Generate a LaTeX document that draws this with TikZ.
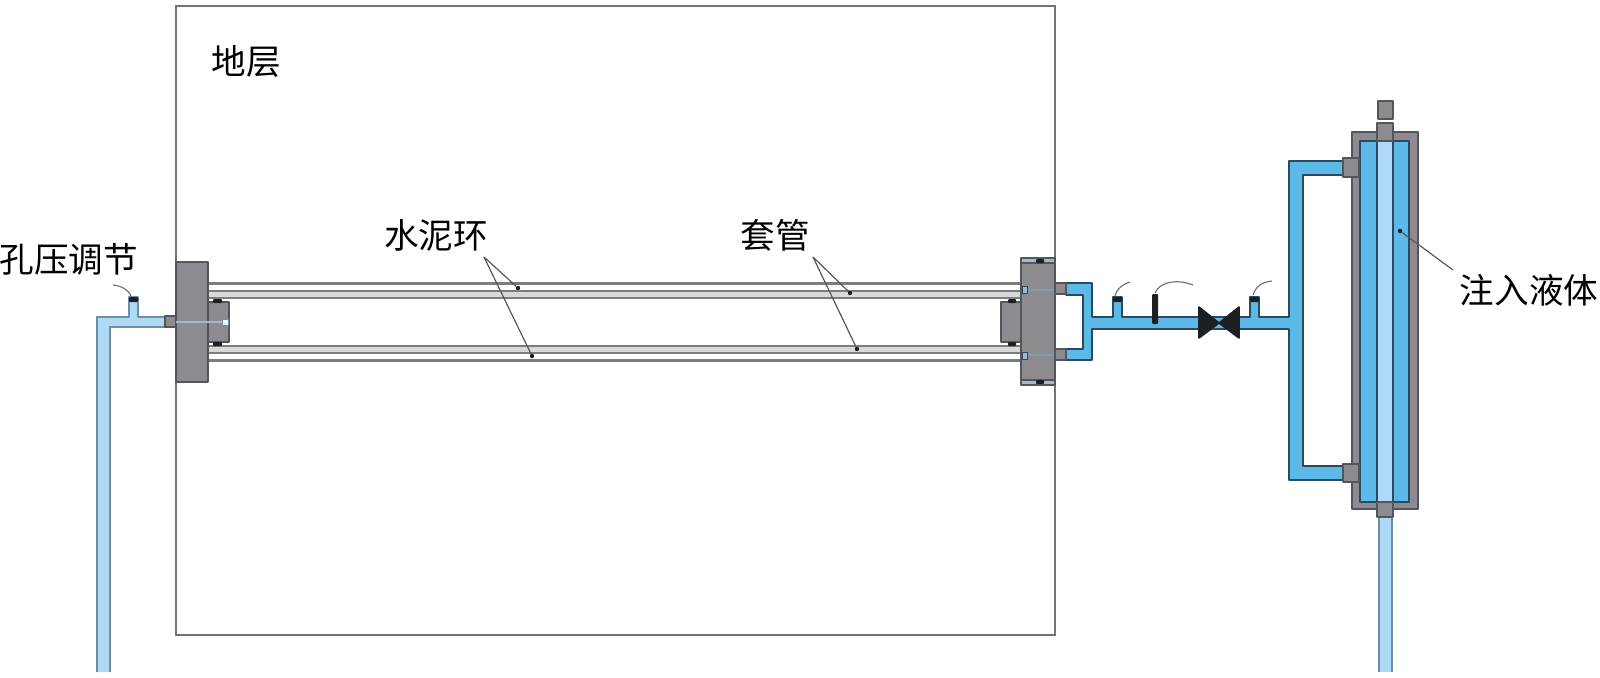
\documentclass[tikz,border=0pt]{standalone}
\usepackage{fontspec}
\setmainfont{Noto Sans CJK SC}
\usetikzlibrary{positioning,calc}
\definecolor{steelgray}{HTML}{8D8B8F}
\definecolor{steeledge}{HTML}{55565C}
\definecolor{waterblue}{HTML}{5CB9E8}
\definecolor{wateredge}{HTML}{2B4A60}
\definecolor{paleblue}{HTML}{AEDAF6}
\definecolor{paleedge}{HTML}{6F8DA3}
\definecolor{capblack}{HTML}{1D1F22}
\definecolor{leadergray}{HTML}{55585A}
\definecolor{casinggray}{HTML}{7C7D7F}
\begin{document}
\begin{tikzpicture}[
    x=0.5pt,y=-0.5pt,
    caption/.style={inner sep=0pt,font=\fontsize{17.3}{20}\selectfont,text=black},
    steel/.style={fill=steelgray,draw=steeledge,line width=0.7pt,line join=round},
    water/.style={fill=waterblue,draw=wateredge,line width=0.85pt,line join=round},
    pale/.style={fill=paleblue,draw=paleedge,line width=0.85pt,line join=round},
    capblock/.style={fill=capblack,draw=none,rounded corners=0.5pt},
    wire/.style={draw=gray!85!black,line width=0.55pt},
    leader/.style={draw=leadergray,line width=0.6pt},
    casing/.style={draw=casinggray,line width=1.2pt},
    tipdot/.style={circle,fill=capblack,inner sep=0pt,minimum size=2.2pt}
]
    \useasboundingbox (0,0) rectangle (1600,677);
    \draw[draw=gray!90!black,line width=0.7pt] (176,6) rectangle (1055,635);

    % casing pipes
    \fill[gray!30] (208,291) rectangle (1022,298) (208,346) rectangle (1022,353);
    \foreach \y in {283.5,291,298,346,353,360.5}
        \draw[casing] (208,\y) -- (1022,\y);

    % left side
    \draw[pale] (97,672) -- (97,317) -- (129,317) -- (129,297) -- (138,297) -- (138,317) -- (165,317)
        -- (165,327) -- (110,327) -- (110,672);
    \draw[steel] (165,316) rectangle (176,327);
    \draw[steel] (176,262) rectangle (208,382);
    \draw[steel] (208,302) rectangle (229,342);
    \fill[paleblue!60!steelgray] (176,321) rectangle (222,323);
    \draw[fill=white!70!paleblue,draw=paleedge,line width=0.5pt] (222,319) rectangle (228,325);
    \foreach \x/\y in {213/299,213/342}
        \fill[capblock] (\x,\y) rectangle ++(9,4);
    \fill[capblock] (129,297) rectangle (138,302);
    \draw[wire] (131,296) .. controls (128,289) and (121,286) .. (113,285);

    % right flange
    \draw[water] (1066,283) -- (1092,283) -- (1092,317) -- (1113,317) -- (1113,297) -- (1122,297) -- (1122,317)
        -- (1250,317) -- (1250,297) -- (1259,297) -- (1259,317) -- (1289,317) -- (1289,161) -- (1343,161)
        -- (1343,175) -- (1303,175) -- (1303,466) -- (1343,466) -- (1343,480) -- (1289,480) -- (1289,329)
        -- (1092,329) -- (1092,360) -- (1066,360) -- (1066,349) -- (1083,349) -- (1083,295) -- (1066,295) -- cycle;
    \draw[steel] (1001,302) rectangle (1022,342);
    \draw[steel,fill=paleblue!60!steelgray] (1021,258) rectangle (1055,385);
    \draw[steel] (1021,263) rectangle (1055,380);
    \fill[waterblue!45!steelgray] (1022,289) rectangle (1055,291) (1022,354) rectangle (1055,356);
    \foreach \y in {286,352}
        \draw[water,fill=paleblue!60!steelgray,line width=0.5pt] (1022,\y) rectangle ++(5,7);
    \foreach \y in {283,349}
        \draw[steel] (1055,\y) rectangle ++(11,11);
    \foreach \x/\y in {1036/259,1036/380,1008/299,1008/342}
        \fill[capblock] (\x,\y) rectangle ++(8,4);

    % sensors and valve
    \foreach \x in {1113,1250}
        \fill[capblock] (\x,297) rectangle ++(9,5);
    \fill[capblock] (1152,294) rectangle (1158,324);
    \draw[wire] (1115,296) .. controls (1118,287) and (1122,285) .. (1130,282);
    \draw[wire] (1155,293) .. controls (1160,281) and (1178,279) .. (1193,285);
    \draw[wire] (1253,295) .. controls (1256,286) and (1262,282) .. (1272,281);
    \draw[capblack,fill=capblack,line width=0.8pt,line join=round] (1199,307) -- (1219,323) -- (1199,338) -- cycle;
    \draw[capblack,fill=capblack,line width=0.8pt,line join=round] (1239,307) -- (1219,323) -- (1239,338) -- cycle;

    % vessel
    \draw[steel] (1352,132) rectangle (1418,509);
    \draw[water] (1360,141) rectangle (1409,502);
    \draw[water,fill=paleblue] (1377,141) rectangle (1393,502);
    \draw[steel] (1378,101) rectangle (1393,119);
    \draw[steel] (1377,123) rectangle (1393,141);
    \draw[pale] (1379,672) -- (1379,517) -- (1392,517) -- (1392,672);
    \draw[steel] (1377,502) rectangle (1393,517);
    \draw[steel] (1343,158) rectangle (1359,177);
    \draw[steel] (1343,464) rectangle (1359,482);

    % labels
    \node[caption] (strata) at (246,61) {地层};
    \node[caption] (porepressure) at (69,259) {孔压调节};
    \node[caption] (cement) at (436,235) {水泥环};
    \node[caption] (casinglabel) at (775,235) {套管};
    \node[caption] (injection) at (1529,290) {注入液体};

    % leader lines
    \coordinate (cementfork) at (484,257);
    \coordinate (casingfork) at (813,257);
    \coordinate (liquidend) at (1453,270);
    \node[tipdot] (cementa) at (518,288) {};
    \node[tipdot] (cementb) at (532,356) {};
    \node[tipdot] (casinga) at (850,293) {};
    \node[tipdot] (casingb) at (857,349) {};
    \node[tipdot] (liquid) at (1400,231) {};
    \draw[leader] (cementfork) -- (cementa);
    \draw[leader] (cementfork) -- (cementb);
    \draw[leader] (casingfork) -- (casinga);
    \draw[leader] (casingfork) -- (casingb);
    \draw[leader] (liquid) -- (liquidend);
\end{tikzpicture}
\end{document}
